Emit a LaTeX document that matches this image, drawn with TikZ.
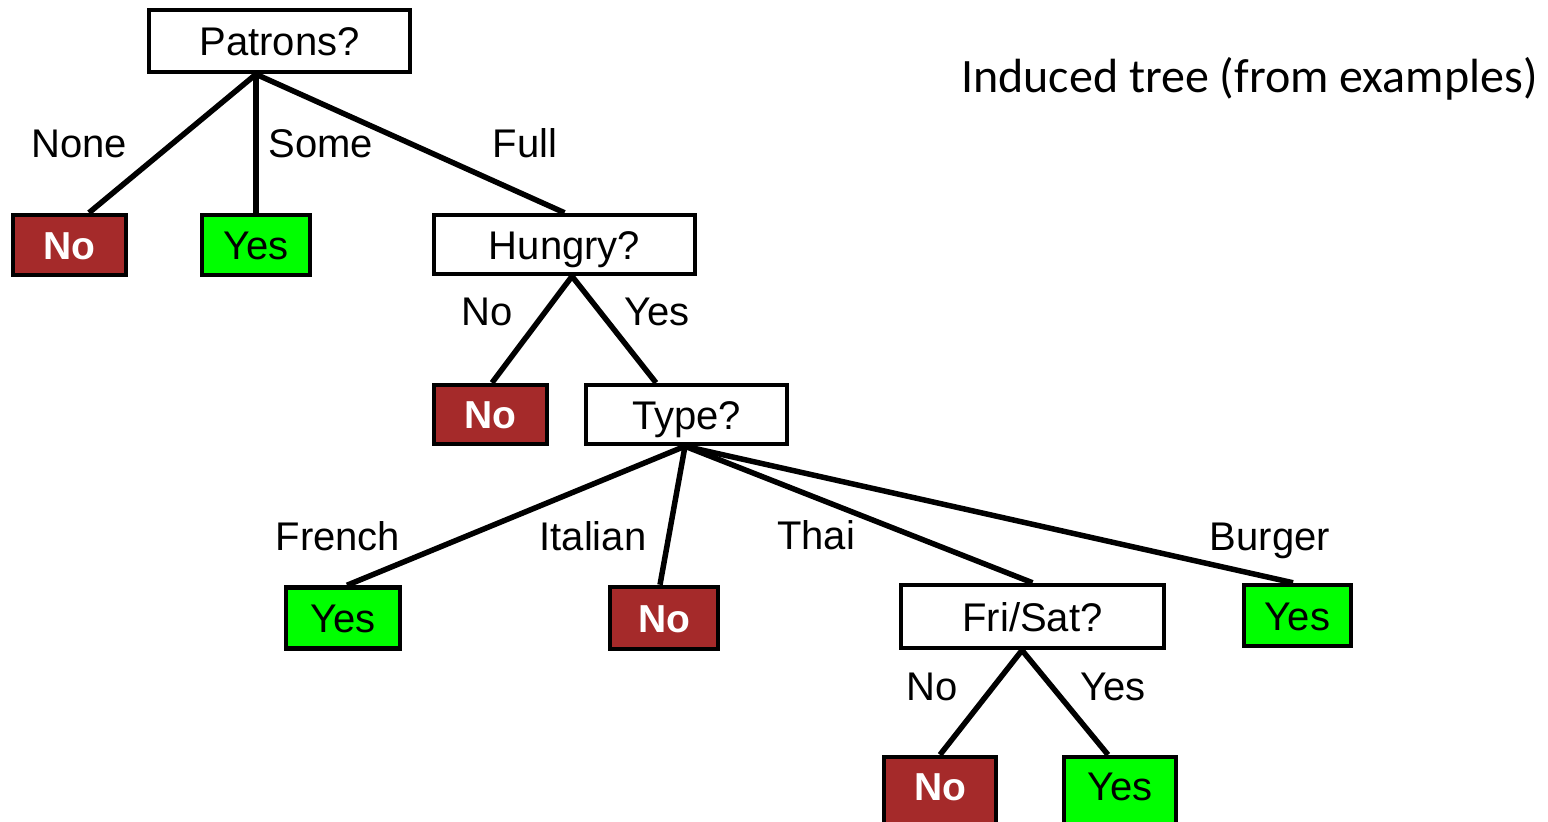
\documentclass[tikz,border=0pt]{standalone}
\usepackage{fontspec}
\setmainfont{Liberation Sans}
\newfontfamily\calibrifont{Carlito}
\definecolor{nored}{RGB}{165,42,42}
\definecolor{yesgreen}{RGB}{0,255,0}
\begin{document}
\begin{tikzpicture}[x=1pt,y=-1pt,
  box/.style={draw=black, line width=4.5pt, inner sep=0pt, font=\fontsize{40}{48}\selectfont, text height=29pt, text depth=0pt},
  question/.style={box, fill=white},
  noleaf/.style={box, fill=nored, text=white, font=\fontsize{39}{46}\selectfont\bfseries, text height=28pt},
  yesleaf/.style={box, fill=yesgreen},
  edge/.style={line width=5.5pt},
  lbl/.style={font=\fontsize{40}{48}\selectfont, anchor=base, inner sep=0pt}]
\useasboundingbox (0,0) rectangle (1548,822);

% nodes
\node[question, minimum width=261pt, minimum height=62pt] (P) at (279.5,41) {Patrons?};
\node[noleaf, minimum width=113pt, minimum height=60pt] (n1) at (69.5,245) {No};
\node[yesleaf, minimum width=108pt, minimum height=60pt] (y1) at (256,245) {Yes};
\node[question, minimum width=261pt, minimum height=59pt] (H) at (564.5,244.5) {Hungry?};
\node[noleaf, minimum width=113pt, minimum height=59pt] (n2) at (490.5,414.5) {No};
\node[question, minimum width=201pt, minimum height=59pt] (T) at (686.5,414.5) {Type?};
\node[yesleaf, minimum width=114pt, minimum height=61pt] (y2) at (343,618) {Yes};
\node[noleaf, minimum width=108pt, minimum height=62pt] (n3) at (664,618) {No};
\node[question, minimum width=263pt, minimum height=63pt] (F) at (1032.5,616.5) {Fri/Sat?};
\node[yesleaf, minimum width=107pt, minimum height=61pt] (y3) at (1297.5,615.5) {Yes};
\node[noleaf, minimum width=112pt, minimum height=70pt, text depth=12pt] (n4) at (940,792) {No};
\node[yesleaf, minimum width=112pt, minimum height=70pt, text depth=12pt] (y4) at (1120,792) {Yes};

% connectors
\coordinate (Pb) at ([xshift=-23.5pt]P.south);
\coordinate (Hb) at ([xshift=7.5pt]H.south);
\coordinate (Tb) at ([xshift=-1.5pt]T.south);
\coordinate (Fb) at ([xshift=-10.5pt]F.south);
\draw[edge] (Pb) -- ([xshift=19.5pt]n1.north);
\draw[edge] (Pb) -- (y1.north);
\draw[edge] (Pb) -- (H.north);
\draw[edge] (Hb) -- ([xshift=1.5pt]n2.north);
\draw[edge] (Hb) -- ([xshift=-30.5pt]T.north);
\draw[edge] (Tb) -- ([xshift=4pt]y2.north);
\draw[edge] (Tb) -- ([xshift=-4pt]n3.north);
\draw[edge] (Tb) -- (F.north);
\draw[edge] (Tb) -- ([xshift=-4.5pt]y3.north);
\draw[edge] (Fb) -- (n4.north);
\draw[edge] (Fb) -- ([xshift=-12pt]y4.north);

% edge labels
\node[lbl] (lNone) at (79,157) {None};
\node[lbl] (lSome) at (321,157) {Some};
\node[lbl] (lFull) at (525,157) {Full};
\node[lbl] (lHNo) at (487,325) {No};
\node[lbl] (lHYes) at (657,325) {Yes};
\node[lbl] (lFrench) at (338,550) {French};
\node[lbl] (lItalian) at (593,550) {Italian};
\node[lbl] (lThai) at (816,549) {Thai};
\node[lbl] (lBurger) at (1270,550) {Burger};
\node[lbl] (lFNo) at (932,700) {No};
\node[lbl] (lFYes) at (1113,700) {Yes};

% title
\node[anchor=base west, inner sep=0pt, font=\calibrifont\fontsize{48}{56}\selectfont] (title) at (961,92) {Induced tree (from examples)};
\end{tikzpicture}
\end{document}
